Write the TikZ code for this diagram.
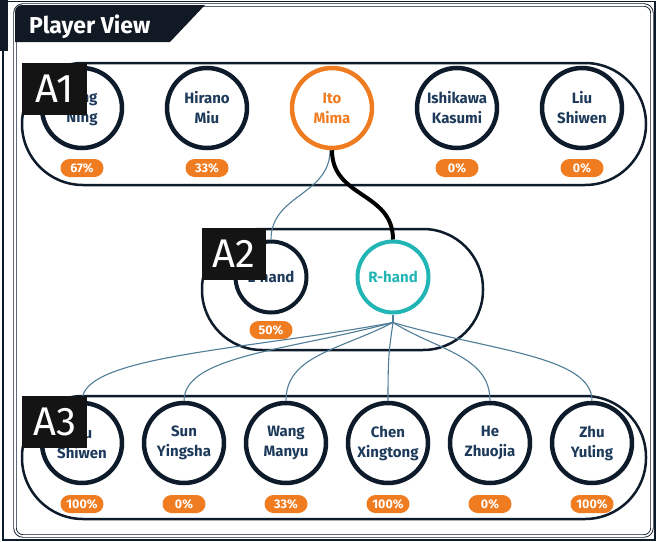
\documentclass[tikz,border=0pt]{standalone}
\usepackage{fontspec}
\setmainfont{Fira Sans}
\definecolor{navy}{HTML}{0E1B2B}
\definecolor{navytext}{HTML}{1E3A5A}
\definecolor{orng}{HTML}{F07C22}
\definecolor{tealc}{HTML}{22B5B5}
\definecolor{connc}{HTML}{4F7C96}
\definecolor{tabc}{HTML}{111A24}
\begin{document}
\begin{tikzpicture}[x=1pt,y=-1pt,
  grp/.style={draw=navy, line width=2.5pt, rounded corners=61pt},
  lbl/.style={fill=black!92, text=white, font=\fontsize{40}{40}\selectfont, inner sep=0pt, minimum width=65pt, minimum height=52pt, anchor=north west},
  player/.style={circle, draw=navy, line width=4.5pt, minimum size=80pt, inner sep=0pt, align=center, text=navytext, font=\bfseries\fontsize{15}{20}\selectfont},
  hand/.style={player, line width=4pt, minimum size=71pt},
  pill/.style={fill=orng, rounded corners=9pt, minimum width=43pt, minimum height=18pt, inner sep=0pt, text=white, font=\bfseries\fontsize{12.5}{12.5}\selectfont},
  thickc/.style={draw=black, line width=4pt},
  thinc/.style={draw=connc, line width=1.1pt}
]
\useasboundingbox (0,0) rectangle (656,541);
% frame
\fill[tabc] (0,0) rectangle (8,51);
\draw[navy, line width=1.6pt] (3,51) -- (3,540) -- (655,540) -- (655,1.5) -- (8,1.5);
\draw[navy, line width=0.9pt, double=white, double distance=1.6pt, rounded corners=8pt] (15,5) rectangle (652,536);
\fill[tabc] (15,42) -- (15,12) to[out=90,in=180] (22,5) -- (205,5) -- (170,42) -- cycle;
\node[anchor=base west, text=white, font=\bfseries\fontsize{23}{23}\selectfont, inner sep=0pt] (title) at (29,33) {Player View};

% A1 players
\node[player] (a1) at (82,108) {Ding\\Ning};
\node[player] (a2) at (207,108) {Hirano\\Miu};
\node[player, draw=orng, text=orng] (a3) at (332,108) {Ito\\Mima};
\node[player] (a4) at (457,108) {Ishikawa\\Kasumi};
\node[player] (a5) at (582,108) {Liu\\Shiwen};
\node[pill] (p1) at (82,168) {67\%};
\node[pill] (p2) at (207,168) {33\%};
\node[pill] (p4) at (457,168) {0\%};
\node[pill] (p5) at (582,168) {0\%};

% A2 hands
\node[hand] (lh) at (271,277) {L-hand};
\node[hand, draw=tealc, text=tealc] (rh) at (393,277) {R-hand};
\node[pill] (ph) at (271,330) {50\%};

% A3 players
\node[player] (b1) at (82,443) {Liu\\Shiwen};
\node[player] (b2) at (184,443) {Sun\\Yingsha};
\node[player] (b3) at (286,443) {Wang\\Manyu};
\node[player] (b4) at (388,443) {Chen\\Xingtong};
\node[player] (b5) at (490,443) {He\\Zhuojia};
\node[player] (b6) at (592,443) {Zhu\\Yuling};
\node[pill] (q1) at (82,504) {100\%};
\node[pill] (q2) at (184,504) {0\%};
\node[pill] (q3) at (286,504) {33\%};
\node[pill] (q4) at (388,504) {100\%};
\node[pill] (q5) at (490,504) {0\%};
\node[pill] (q6) at (592,504) {100\%};

% groups
\draw[grp] (22,63) rectangle (646,185);
\draw[grp, rounded corners=60pt] (202,229) rectangle (483,350);
\draw[grp] (22,396) rectangle (646,519);

% connectors
\draw[thinc] ([xshift=-2pt]a3.south) .. controls +(0,45) and +(0,-45) .. (lh.north);
\draw[thickc] (a3.south) .. controls +(0,48) and +(0,-48) .. (rh.north);
\coordinate (fan) at ([yshift=-8pt]rh.south);
\draw[thinc] (rh.south) -- (fan);
\foreach \n/\c in {b1/-150,b2/-105,b3/-55,b4/-4,b5/45,b6/95}
  \draw[thinc] (fan) .. controls +(\c,28) and +(0,-45) .. (\n.north);

% labels
\node[lbl] (la1) at (22,63) {A1};
\node[lbl, minimum width=64pt] (la2) at (202,228) {A2};
\node[lbl] (la3) at (22,396) {A3};
\end{tikzpicture}
\end{document}
